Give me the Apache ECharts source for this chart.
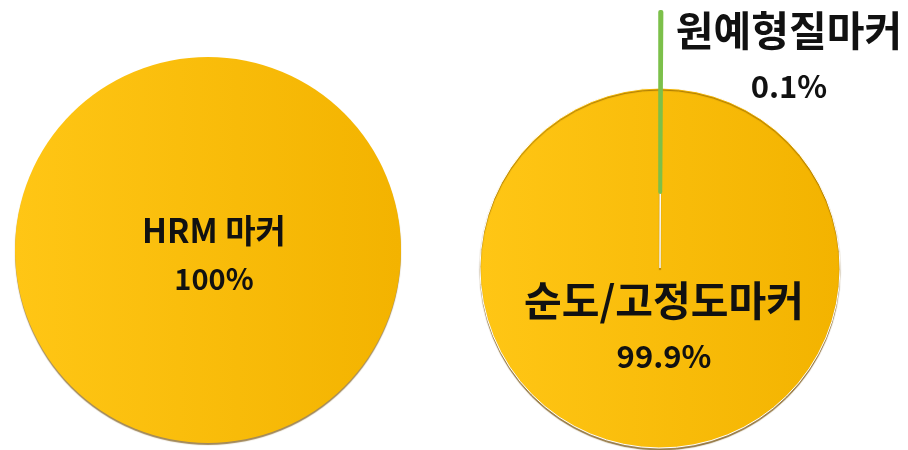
<!DOCTYPE html>
<html>
<head>
<meta charset="utf-8">
<script src="https://cdn.jsdelivr.net/npm/echarts@6/dist/echarts.min.js"></script>
<style>
  html, body { margin: 0; padding: 0; background: #ffffff; }
  #chart { width: 908px; height: 450px; }
</style>
</head>
<body>
<div id="chart"></div>
<script>
// Marker composition: left pie (HRM markers) and right pie (purity vs. horticultural trait markers)
const hrmNames = ['HRM 마커'];
const hrmValues = [100];

const markerNames = ['원예형질마커', '순도/고정도마커'];
const markerValues = [0.1, 99.9];

const FONT = '"Noto Sans CJK KR", "Noto Sans", sans-serif';

const gold = {
  type: 'linear', x: 0, y: 0, x2: 1, y2: 0,
  colorStops: [
    { offset: 0, color: '#ffc615' },
    { offset: 1, color: '#f3b300' }
  ]
};
const green = '#7cc04a';

// thin dark rim along the lower edge
const shadow = {
  shadowColor: 'rgba(110, 72, 0, 0.65)',
  shadowBlur: 1,
  shadowOffsetY: 2
};

const chart = echarts.init(document.getElementById('chart'), null, { renderer: 'canvas' });

chart.setOption({
  backgroundColor: '#ffffff',
  animation: false,
  series: [
    {
      type: 'pie',
      center: [208, 250],
      radius: 193,
      startAngle: 90,
      silent: true,
      itemStyle: Object.assign({ color: gold }, shadow),
      label: {
        show: true,
        position: 'center',
        padding: [9, 0, 0, 12],
        formatter: '{n|{b}}\n{v|{c}%}',
        rich: {
          n: { fontFamily: FONT, fontWeight: 'bold', fontSize: 33, color: '#111', lineHeight: 49, align: 'center' },
          v: { fontFamily: FONT, fontWeight: 'bold', fontSize: 29, color: '#111', lineHeight: 49, align: 'center' }
        }
      },
      labelLine: { show: false },
      data: hrmNames.map((n, i) => ({ name: n, value: hrmValues[i] }))
    },
    {
      type: 'pie',
      center: [660, 268],
      radius: 180,
      startAngle: 90,
      clockwise: true,
      silent: true,
      avoidLabelOverlap: false,
      selectedMode: 'single',
      selectedOffset: 76,
      itemStyle: Object.assign({ color: gold, borderColor: '#ffffff', borderWidth: 1 }, shadow),
      label: {
        show: true,
        position: 'center',
        padding: [120, 0, 0, 8],
        formatter: '{n|{b}}\n{v|{c}%}',
        rich: {
          n: { fontFamily: FONT, fontWeight: 'bold', fontSize: 41, color: '#111', lineHeight: 56, align: 'center' },
          v: { fontFamily: FONT, fontWeight: 'bold', fontSize: 31, color: '#111', lineHeight: 56, align: 'center' }
        }
      },
      labelLine: { show: false },
      data: markerNames.map((n, i) => {
        const item = { name: n, value: markerValues[i] };
        if (i === 0) {
          // exploded sliver with its label above-right of the pie
          item.selected = true;
          item.itemStyle = { color: green, borderColor: green, borderWidth: 4, shadowBlur: 0, shadowOffsetY: 0, shadowColor: 'transparent' };
          item.label = {
            position: 'outside',
            padding: [92, 0, 0, 15],
            distanceToLabelLine: 0
          };
          item.labelLine = { show: false, length: 0, length2: 0 };
        }
        return item;
      })
    }
  ]
});
</script>
</body>
</html>
